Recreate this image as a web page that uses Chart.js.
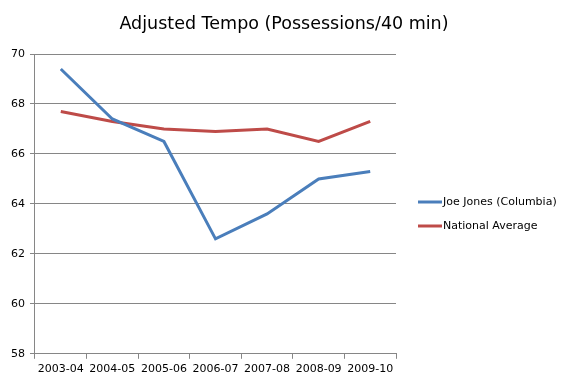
<!DOCTYPE html>
<html>
<head>
<meta charset="utf-8">
<script src="https://cdn.jsdelivr.net/npm/chart.js@4.4.1/dist/chart.umd.min.js"></script>
<style>
html,body{margin:0;padding:0;background:#fff;}
#wrap{width:568px;height:380px;position:relative;}
</style>
</head>
<body>
<div id="wrap"><canvas id="c" width="568" height="380"></canvas></div>
<script>
const categories = ["2003-04","2004-05","2005-06","2006-07","2007-08","2008-09","2009-10"];
const joeJones = [69.4, 67.4, 66.5, 62.6, 63.6, 65.0, 65.3];
const nationalAverage = [67.7, 67.3, 67.0, 66.9, 67.0, 66.5, 67.3];
const seriesLabels = ["Joe Jones (Columbia)", "National Average"];
const titleText = "Adjusted Tempo (Possessions/40 min)";
const yMin = 58, yMax = 70, yStep = 2;

const decorPlugin = {
  id: 'decor',
  afterDraw(chart) {
    const ctx = chart.ctx;
    ctx.save();
    // title
    ctx.fillStyle = '#000';
    ctx.font = '17.5px "DejaVu Sans"';
    ctx.textAlign = 'center';
    ctx.textBaseline = 'alphabetic';
    ctx.fillText(titleText, 284, 29);
    // legend
    const x0 = 418, ys = [202, 226];
    chart.data.datasets.forEach((ds, i) => {
      ctx.strokeStyle = ds.borderColor;
      ctx.lineWidth = 3;
      ctx.beginPath();
      ctx.moveTo(x0, ys[i]);
      ctx.lineTo(x0 + 24, ys[i]);
      ctx.stroke();
      ctx.fillStyle = '#000';
      ctx.font = '11px "DejaVu Sans"';
      ctx.textBaseline = 'middle';
      ctx.textAlign = 'left';
      ctx.fillText(ds.label, x0 + 25, ys[i]);
    });
    ctx.restore();
  }
};

new Chart(document.getElementById('c'), {
  type: 'line',
  data: {
    labels: categories,
    datasets: [
      { label: seriesLabels[0], data: joeJones, borderColor: '#4A7EBB', backgroundColor: '#4A7EBB', borderWidth: 3, pointRadius: 0, tension: 0 },
      { label: seriesLabels[1], data: nationalAverage, borderColor: '#BE4B48', backgroundColor: '#BE4B48', borderWidth: 3, pointRadius: 0, tension: 0 }
    ]
  },
  options: {
    responsive: false,
    animation: false,
    layout: { padding: { left: 6, right: 172, top: 54, bottom: 0 } },
    plugins: {
      legend: { display: false },
      tooltip: { enabled: false },
      title: { display: false }
    },
    scales: {
      x: {
        offset: true,
        grid: { display: true, drawOnChartArea: false, drawTicks: true, tickLength: 5, color: '#868686', offset: true },
        border: { color: '#868686' },
        ticks: { color: '#000', font: { family: '"DejaVu Sans"', size: 11 }, maxRotation: 0, autoSkip: false, padding: 4 }
      },
      y: {
        min: yMin, max: yMax,
        grid: { color: '#868686', tickLength: 5 },
        border: { color: '#868686' },
        ticks: { stepSize: yStep, color: '#000', font: { family: '"DejaVu Sans"', size: 11 }, padding: 5 }
      }
    }
  },
  plugins: [decorPlugin]
});
</script>
</body>
</html>
